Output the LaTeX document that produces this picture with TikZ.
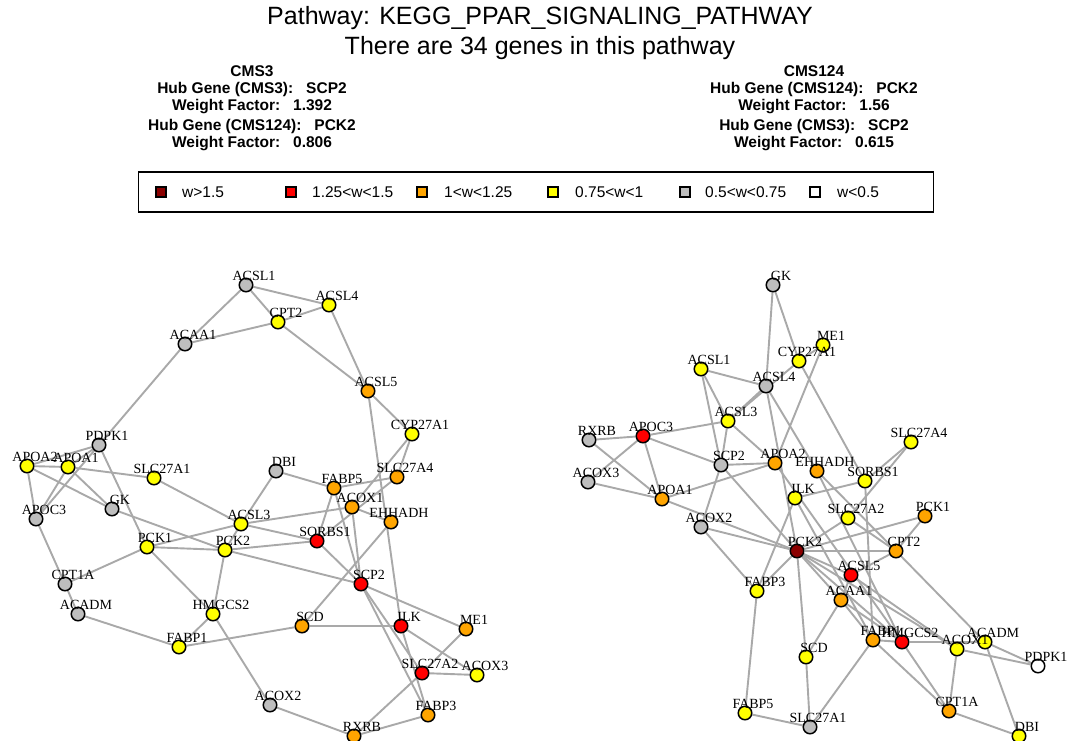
\documentclass[tikz,border=0pt]{standalone}
\usepackage{fontspec}
\setmainfont{Liberation Serif}
\newfontfamily\hfont{Liberation Sans}
\usetikzlibrary{backgrounds}
\pgfdeclarelayer{backmost}
\pgfsetlayers{backmost,background,main}
\definecolor{cgray}{RGB}{190,190,190}
\definecolor{cyel}{RGB}{255,255,0}
\definecolor{corg}{RGB}{255,165,0}
\definecolor{cred}{RGB}{255,0,0}
\definecolor{cdred}{RGB}{139,0,0}
\definecolor{cwhite}{RGB}{255,255,255}
\definecolor{edgegray}{RGB}{169,169,169}
\newcommand\gn[5]{\node[gnode,fill=#4,label={[glab]center:#5}] (#1) at (#2,#3) {};}
\begin{document}
\begin{tikzpicture}[x=1pt,y=-1pt,
  gnode/.style={circle,draw=black,line width=1.5pt,minimum size=13.5pt,inner sep=0pt},
  glab/.style={font=\fontsize{14}{15}\selectfont,inner sep=0pt,xshift=8pt,yshift=9pt},
  edge/.style={draw=edgegray,line width=1.9pt},
  ttl/.style={font=\hfont\fontsize{25}{28}\selectfont,inner sep=0pt},
  hdr/.style={font=\hfont\bfseries\fontsize{15.5}{17}\selectfont,inner sep=0pt},
  legsq/.style={draw=black,line width=1.2pt,minimum size=10pt,inner sep=0pt},
  legtx/.style={font=\hfont\fontsize{15.5}{17}\selectfont,inner sep=0pt,anchor=west}]
\begin{pgfonlayer}{backmost}
\fill[white] (0,0) rectangle (1081,740);
\end{pgfonlayer}
\useasboundingbox (0,0) rectangle (1081,740);
% titles
\node[ttl] (t1) at (540,18) {Pathway: KEGG\_PPAR\_SIGNALING\_PATHWAY};
\node[ttl] (t2) at (540,48) {There are 34 genes in this pathway};
\node[hdr] (h1) at (252,71) {CMS3};
\node[hdr] (h2) at (252,89) {Hub Gene (CMS3):\ \ \ SCP2};
\node[hdr] (h3) at (252,107) {Weight Factor:\ \ \ 1.392};
\node[hdr] (h4) at (252,126) {Hub Gene (CMS124):\ \ \ PCK2};
\node[hdr] (h5) at (252,144) {Weight Factor:\ \ \ 0.806};
\node[hdr] (k1) at (814,71) {CMS124};
\node[hdr] (k2) at (814,89) {Hub Gene (CMS124):\ \ \ PCK2};
\node[hdr] (k3) at (814,107) {Weight Factor:\ \ \ 1.56};
\node[hdr] (k4) at (814,126) {Hub Gene (CMS3):\ \ \ SCP2};
\node[hdr] (k5) at (814,144) {Weight Factor:\ \ \ 0.615};
% legend
\node[draw=black,line width=1.5pt,minimum width=795pt,minimum height=40pt,inner sep=0pt] (legbox) at (536,192) {};
\node[legsq,fill=cdred] (q1) at (161,192) {}; \node[legtx] (w1) at (182,192) {w>1.5};
\node[legsq,fill=cred] (q2) at (291,192) {}; \node[legtx] (w2) at (312,192) {1.25<w<1.5};
\node[legsq,fill=corg] (q3) at (422,192) {}; \node[legtx] (w3) at (444,192) {1<w<1.25};
\node[legsq,fill=cyel] (q4) at (553,192) {}; \node[legtx] (w4) at (575,192) {0.75<w<1};
\node[legsq,fill=cgray] (q5) at (685,192) {}; \node[legtx] (w5) at (705,192) {0.5<w<0.75};
\node[legsq,fill=cwhite] (q6) at (815,192) {}; \node[legtx] (w6) at (837,192) {w<0.5};
% left graph nodes
\gn{LACSL1}{246}{285}{cgray}{ACSL1}
\gn{LACSL4}{329}{305}{cyel}{ACSL4}
\gn{LCPT2}{278}{322}{cyel}{CPT2}
\gn{LACAA1}{185}{344}{cgray}{ACAA1}
\gn{LACSL5}{368}{391}{corg}{ACSL5}
\gn{LCYP27A1}{412}{434}{cyel}{CYP27A1}
\gn{LPDPK1}{99}{445}{cgray}{PDPK1}
\gn{LAPOA2}{27}{466}{cyel}{APOA2}
\gn{LAPOA1}{68}{467}{cyel}{APOA1}
\gn{LSLC27A1}{154}{478}{cyel}{SLC27A1}
\gn{LDBI}{276}{471}{cgray}{DBI}
\gn{LSLC27A4}{397}{477}{corg}{SLC27A4}
\gn{LFABP5}{334}{488}{corg}{FABP5}
\gn{LACOX1}{352}{507}{corg}{ACOX1}
\gn{LGK}{112}{509}{cgray}{GK}
\gn{LAPOC3}{36}{519}{cgray}{APOC3}
\gn{LACSL3}{241}{524}{cyel}{ACSL3}
\gn{LEHHADH}{391}{522}{corg}{EHHADH}
\gn{LSORBS1}{317}{541}{cred}{SORBS1}
\gn{LPCK1}{147}{547}{cyel}{PCK1}
\gn{LPCK2}{225}{550}{cyel}{PCK2}
\gn{LSCP2}{361}{584}{cred}{SCP2}
\gn{LCPT1A}{65}{584}{cgray}{CPT1A}
\gn{LACADM}{78}{614}{cgray}{ACADM}
\gn{LHMGCS2}{213}{614}{cyel}{HMGCS2}
\gn{LSCD}{302}{626}{corg}{SCD}
\gn{LILK}{401}{626}{cred}{ILK}
\gn{LME1}{466}{629}{corg}{ME1}
\gn{LFABP1}{179}{647}{cyel}{FABP1}
\gn{LSLC27A2}{422}{673}{cred}{SLC27A2}
\gn{LACOX3}{477}{675}{cyel}{ACOX3}
\gn{LACOX2}{270}{705}{cgray}{ACOX2}
\gn{LFABP3}{428}{715}{corg}{FABP3}
\gn{LRXRB}{354}{736}{corg}{RXRB}
% right graph nodes
\gn{RGK}{773}{285}{cgray}{GK}
\gn{RME1}{823}{345}{cyel}{ME1}
\gn{RCYP27A1}{799}{361}{cyel}{CYP27A1}
\gn{RACSL1}{701}{369}{cyel}{ACSL1}
\gn{RACSL4}{766}{386}{cgray}{ACSL4}
\gn{RACSL3}{728}{421}{cyel}{ACSL3}
\gn{RAPOC3}{643}{436}{cred}{APOC3}
\gn{RRXRB}{589}{440}{cgray}{RXRB}
\gn{RSLC27A4}{911}{442}{cyel}{SLC27A4}
\gn{RAPOA2}{775}{463}{corg}{APOA2}
\gn{RSCP2}{721}{465}{cgray}{SCP2}
\gn{REHHADH}{817}{471}{corg}{EHHADH}
\gn{RSORBS1}{865}{481}{cyel}{SORBS1}
\gn{RACOX3}{588}{482}{cgray}{ACOX3}
\gn{RILK}{795}{498}{cyel}{ILK}
\gn{RAPOA1}{662}{499}{corg}{APOA1}
\gn{RPCK1}{925}{516}{corg}{PCK1}
\gn{RSLC27A2}{848}{518}{cyel}{SLC27A2}
\gn{RACOX2}{701}{527}{cgray}{ACOX2}
\gn{RPCK2}{797}{551}{cdred}{PCK2}
\gn{RCPT2}{896}{551}{corg}{CPT2}
\gn{RACSL5}{851}{575}{cred}{ACSL5}
\gn{RFABP3}{757}{591}{cyel}{FABP3}
\gn{RACAA1}{841}{600}{corg}{ACAA1}
\gn{RFABP1}{873}{640}{corg}{FABP1}
\gn{RHMGCS2}{902}{642}{cred}{HMGCS2}
\gn{RACADM}{985}{642}{cyel}{ACADM}
\gn{RACOX1}{957}{649}{cyel}{ACOX1}
\gn{RSCD}{806}{657}{cyel}{SCD}
\gn{RPDPK1}{1038}{666}{cwhite}{PDPK1}
\gn{RCPT1A}{949}{711}{corg}{CPT1A}
\gn{RFABP5}{745}{713}{cyel}{FABP5}
\gn{RSLC27A1}{810}{727}{cgray}{SLC27A1}
\gn{RDBI}{1019}{736}{cyel}{DBI}
\begin{pgfonlayer}{background}
\foreach \a/\b in {ACSL1/ACAA1,ACSL1/ACSL4,ACSL1/CPT2,ACAA1/CPT2,ACAA1/PDPK1,CPT2/ACSL4,CPT2/ACSL5,ACSL4/ACSL5,ACSL5/CYP27A1,ACSL5/ILK,CYP27A1/SLC27A4,CYP27A1/ACOX1,PDPK1/APOA2,PDPK1/APOA1,PDPK1/PCK1,PDPK1/APOC3,APOA2/APOA1,APOA2/APOC3,APOA2/GK,APOA1/APOC3,APOA1/GK,APOA1/SLC27A1,SLC27A1/ACSL3,GK/PCK2,APOC3/CPT1A,CPT1A/ACADM,CPT1A/PCK1,ACADM/FABP1,PCK1/PCK2,PCK1/ACSL3,PCK1/HMGCS2,PCK2/HMGCS2,PCK2/SORBS1,PCK2/SCP2,ACSL3/PCK2,ACSL3/DBI,ACSL3/ACOX1,ACSL3/SORBS1,DBI/FABP5,FABP5/SLC27A4,FABP5/SORBS1,FABP5/SCP2,SLC27A4/SORBS1,ACOX1/EHHADH,ACOX1/SCP2,SORBS1/SCP2,EHHADH/SCD,SCP2/ME1,SCP2/SLC27A2,SCP2/FABP3,HMGCS2/FABP1,HMGCS2/ACOX2,FABP1/SCD,SCD/ILK,ILK/ACOX3,ILK/FABP3,ME1/SLC27A2,SLC27A2/ACOX3,SLC27A2/RXRB,ACOX2/RXRB,RXRB/FABP3}
  \draw[edge] (L\a) -- (L\b);
\foreach \a/\b in {GK/ACSL4,GK/CYP27A1,CYP27A1/SORBS1,ME1/CYP27A1,ME1/APOA2,ACSL1/ACSL4,ACSL1/ACSL3,ACSL1/SCP2,ACSL4/ACSL3,CYP27A1/ACSL3,ACSL4/EHHADH,ACSL4/PCK2,ACSL3/APOC3,ACSL3/SCP2,ACSL3/APOA2,RXRB/APOC3,RXRB/APOA1,APOC3/APOA1,APOC3/ACOX3,APOC3/SCP2,ACOX3/APOA1,APOA1/APOA2,SCP2/APOA2,SCP2/ACOX2,SCP2/PCK2,APOA1/PCK2,ACOX2/PCK2,ACOX2/FABP3,FABP3/PCK2,FABP3/ILK,FABP3/FABP5,FABP5/SLC27A1,SLC27A1/SCD,SLC27A1/FABP1,SCD/PCK2,SCD/ACAA1,PCK2/CPT2,PCK2/ACSL5,PCK2/ACAA1,PCK2/HMGCS2,PCK2/PCK1,PCK2/SLC27A2,PCK2/ACOX1,ILK/SORBS1,SORBS1/SLC27A4,SLC27A4/SLC27A2,SORBS1/FABP1,SLC27A2/CPT2,PCK1/CPT2,CPT2/ACSL5,CPT2/ACADM,ACSL5/ACAA1,ACSL5/ACOX1,ACAA1/FABP1,ACAA1/HMGCS2,FABP1/HMGCS2,HMGCS2/ACADM,ACOX1/PDPK1,ACADM/PDPK1,ACADM/DBI,ACOX1/CPT1A,CPT1A/DBI,HMGCS2/CPT1A,FABP1/CPT1A,APOA2/HMGCS2,ILK/FABP1,EHHADH/HMGCS2,EHHADH/CPT2}
  \draw[edge] (R\a) -- (R\b);
\end{pgfonlayer}
\end{tikzpicture}
\end{document}
